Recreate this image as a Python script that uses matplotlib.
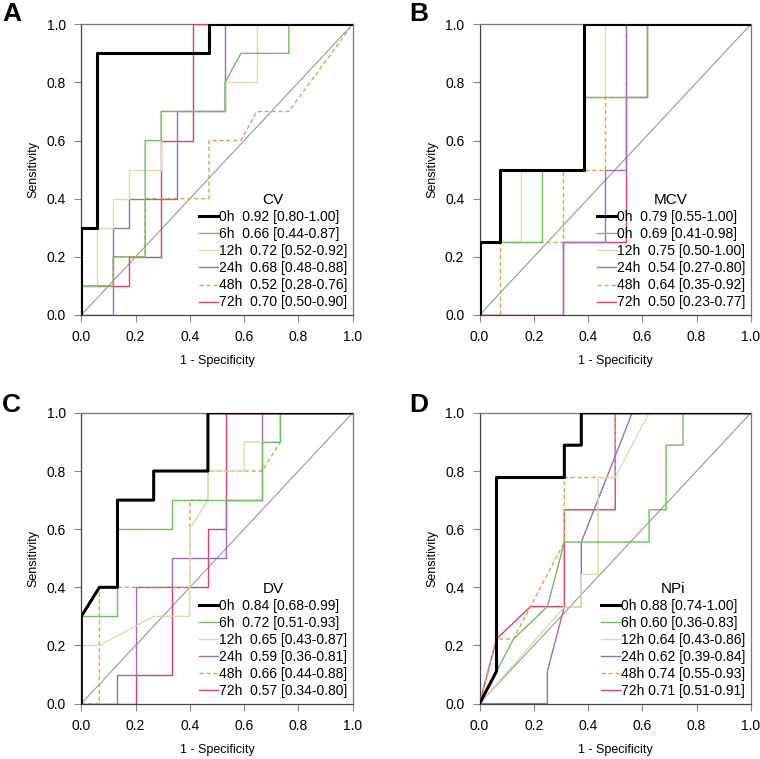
import matplotlib
matplotlib.use("Agg")
import matplotlib.pyplot as plt

plt.rcParams['font.family'] = ['Liberation Sans', 'DejaVu Sans']

# series labels / colours shared by all panels
times = ['0h', '6h', '12h', '24h', '48h', '72h']
colors = ['#000000', '#6cbf5c', '#dcdca8', '#9a6cc0', '#e8a040', '#dc3d74']
widths = [2.2, 1.0, 1.0, 1.0, 1.0, 1.0]
styles = ['-', '-', '-', '-', '--', '-']

# ---- Panel A: CV (17 controls, 10 cases)
cv_fpr = [
    [0, 0, 1, 1, 8, 8, 17],
    [0, 0, 2, 2, 4, 4, 5, 5, 9, 9, 10, 13, 13, 17],
    [0, 0, 1, 1, 2, 2, 3, 3, 5, 5, 9, 9, 11, 11, 17],
    [0, 2, 2, 3, 3, 6, 6, 9, 9, 17],
    [0, 0, 2, 2, 4, 4, 8, 8, 10, 11, 13, 17],
    [0, 0, 3, 3, 5, 5, 7, 7, 17],
]
cv_tpr = [
    [0, 3, 3, 9, 9, 10, 10],
    [0, 1, 1, 2, 2, 6, 6, 7, 7, 8, 9, 9, 10, 10],
    [0, 1, 1, 3, 3, 4, 4, 5, 5, 7, 7, 8, 8, 10, 10],
    [0, 0, 3, 3, 4, 4, 7, 7, 10, 10],
    [0, 1, 1, 2, 2, 4, 4, 6, 6, 7, 7, 10],
    [0, 1, 1, 2, 2, 6, 6, 10, 10],
]
cv_labels = ['0h  0.92 [0.80-1.00]', '6h  0.66 [0.44-0.87]', '12h  0.72 [0.52-0.92]',
             '24h  0.68 [0.48-0.88]', '48h  0.52 [0.28-0.76]', '72h  0.70 [0.50-0.90]']

# ---- Panel B: MCV (13 controls, 4 cases)
mcv_fpr = [
    [0, 0, 1, 1, 5, 5, 13],
    [0, 0, 3, 3, 5, 5, 8, 8, 13],
    [0, 0, 2, 2, 5, 5, 6, 6, 13],
    [0, 4, 4, 6, 6, 7, 7, 13],
    [0, 1, 1, 4, 4, 6, 6, 7, 7, 13],
    [0, 4, 4, 7, 7, 8, 8, 13],
]
mcv_tpr = [
    [0, 1, 1, 2, 2, 4, 4],
    [0, 1, 1, 2, 2, 3, 3, 4, 4],
    [0, 1, 1, 2, 2, 3, 3, 4, 4],
    [0, 0, 1, 1, 2, 2, 4, 4],
    [0, 0, 1, 1, 2, 2, 3, 3, 4, 4],
    [0, 0, 1, 1, 3, 3, 4, 4],
]
mcv_labels = ['0h  0.79 [0.55-1.00]', '0h  0.69 [0.41-0.98]', '12h  0.75 [0.50-1.00]',
              '24h  0.54 [0.27-0.80]', '48h  0.64 [0.35-0.92]', '72h  0.50 [0.23-0.77]']

# ---- Panel C: DV (15 controls, 10 cases)
dv_fpr = [
    [0, 0, 1, 2, 2, 4, 4, 7, 7, 15],
    [0, 0, 2, 2, 5, 5, 10, 10, 11, 11, 15],
    [0, 0, 1, 4, 6, 6, 7, 7, 9, 9, 11, 11, 15],
    [0, 2, 2, 3, 3, 5, 5, 8, 8, 10, 10, 15],
    [0, 1, 1, 6, 6, 7, 7, 10, 11, 11, 15],
    [0, 3, 3, 5, 5, 7, 7, 8, 8, 15],
]
dv_tpr = [
    [0, 3, 4, 4, 7, 7, 8, 8, 10, 10],
    [0, 3, 3, 6, 6, 7, 7, 9, 9, 10, 10],
    [0, 2, 2, 3, 3, 6, 7, 8, 8, 9, 9, 10, 10],
    [0, 0, 1, 1, 4, 4, 5, 5, 7, 7, 10, 10],
    [0, 0, 4, 4, 7, 7, 8, 8, 9, 10, 10],
    [0, 0, 1, 1, 4, 4, 6, 6, 10, 10],
]
dv_labels = ['0h  0.84 [0.68-0.99]', '6h  0.72 [0.51-0.93]', '12h  0.65 [0.43-0.87]',
             '24h  0.59 [0.36-0.81]', '48h  0.66 [0.44-0.88]', '72h  0.57 [0.34-0.80]']

# ---- Panel D: NPi (16 controls, 9 cases)
npi_fpr = [
    [0, 1, 1, 5, 5, 6, 6, 16],
    [0, 1, 2, 4, 5, 10, 10, 11, 11, 12, 12, 16],
    [0, 5, 6, 6, 7, 7, 8, 10, 16],
    [0, 4, 4, 5, 6, 6, 9, 16],
    [0, 1, 2, 5, 5, 8, 8, 16],
    [0, 1, 3, 5, 5, 8, 8, 16],
]
npi_tpr = [
    [0, 1, 7, 7, 8, 8, 9, 9],
    [0, 1, 2, 3, 5, 5, 6, 6, 8, 8, 9, 9],
    [0, 3, 3, 4, 4, 7, 7, 9, 9],
    [0, 0, 1, 3, 3, 5, 9, 9],
    [0, 2, 2, 5, 7, 7, 9, 9],
    [0, 2, 3, 3, 6, 6, 9, 9],
]
npi_labels = ['0h 0.88 [0.74-1.00]', '6h 0.60 [0.36-0.83]', '12h 0.64 [0.43-0.86]',
              '24h 0.62 [0.39-0.84]', '48h 0.74 [0.55-0.93]', '72h 0.71 [0.51-0.91]']

panels = [
    ('A', 'CV', cv_fpr, cv_tpr, 17, 10, cv_labels),
    ('B', 'MCV', mcv_fpr, mcv_tpr, 13, 4, mcv_labels),
    ('C', 'DV', dv_fpr, dv_tpr, 15, 10, dv_labels),
    ('D', 'NPi', npi_fpr, npi_tpr, 16, 9, npi_labels),
]

fig = plt.figure(figsize=(7.6, 7.59), dpi=100)
rects = [(0.107, 0.585), (0.631, 0.585), (0.107, 0.073), (0.631, 0.073)]
letter_pos = [(0.003, 0.997), (0.538, 0.997), (0.003, 0.482), (0.538, 0.482)]
tick_vals = [0.0, 0.2, 0.4, 0.6, 0.8, 1.0]

for (letter, name, fprs, tprs, n_neg, n_pos, labels), (lx, by), (tx, ty) in zip(panels, rects, letter_pos):
    ax = fig.add_axes([lx, by, 0.357, 0.383])
    ax.plot([0, 1], [0, 1], color='#999999', lw=0.8, zorder=1)
    # draw from last to first so 0h sits on top
    handles = []
    for i in range(5, -1, -1):
        xs = [v / n_neg for v in fprs[i]]
        ys = [v / n_pos for v in tprs[i]]
        h, = ax.plot(xs, ys, color=colors[i], lw=widths[i], ls=styles[i],
                     label=labels[i], zorder=2 + (6 - i),
                     dashes=(3, 2) if styles[i] == '--' else (None, None))
        handles.append(h)
    handles = handles[::-1]
    ax.set_xlim(0, 1)
    ax.set_ylim(0, 1)
    ax.set_xticks(tick_vals)
    ax.set_yticks(tick_vals)
    ax.set_xticklabels(['%.1f' % v for v in tick_vals])
    ax.set_yticklabels(['%.1f' % v for v in tick_vals])
    ax.tick_params(direction='out', length=5, width=0.8, color='#888888',
                   labelsize=10, pad=6)
    for side, s in ax.spines.items():
        s.set_color('#444444' if side in ('left', 'bottom') else '#777777')
        s.set_linewidth(0.9)
    ax.set_xlabel('1 - Specificity', fontsize=9, labelpad=8)
    ax.set_ylabel('Sensitivity', fontsize=9, labelpad=5)
    ax.legend(handles=handles, title=name, loc='lower right', frameon=False,
              fontsize=10, title_fontsize=11, handlelength=1.4,
              handletextpad=0.05, labelspacing=0.22, borderaxespad=0.3,
              borderpad=0.1)
    fig.text(tx, ty, letter, fontsize=19, fontweight='bold', va='top', ha='left')

fig.savefig('out.png', dpi=100)
